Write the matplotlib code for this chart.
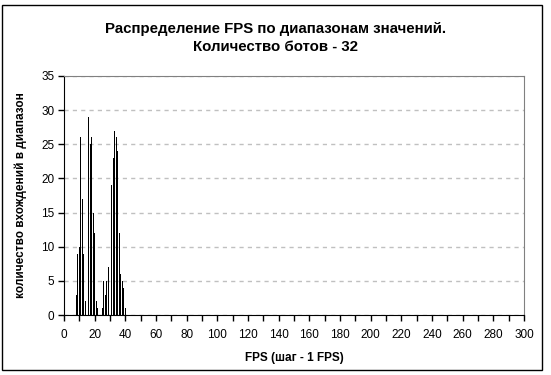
"""FPS distribution histogram (32 bots)."""

import matplotlib
matplotlib.use("Agg")
import matplotlib.pyplot as plt
from matplotlib.patches import Rectangle

plt.rcParams["font.family"] = ["Liberation Sans", "DejaVu Sans"]

# FPS bins (step 1 FPS) and hit counts
fps = [8, 9, 10, 11, 12, 13, 14, 15, 16, 17, 18, 19, 20, 21, 22, 23, 24,
       25, 26, 27, 28, 29, 30, 31, 32, 33, 34, 35, 36, 37, 38, 39, 40]
counts = [3, 9, 10, 26, 17, 9, 2, 2, 29, 25, 26, 15, 12, 2, 1, 0, 0,
          1, 5, 3, 5, 7, 15, 19, 23, 27, 26, 24, 12, 6, 5, 4, 1]

title = "Распределение FPS по диапазонам значений.\nКоличество ботов - 32"
xlabel = "FPS (шаг - 1 FPS)"
ylabel = "количество вхождений в диапазон"

W, H = 551, 375
fig = plt.figure(figsize=(W / 100, H / 100), dpi=100)
ax = fig.add_axes([64 / W, 1 - 315 / H, (524 - 64) / W, (315 - 76) / H])

ax.bar(fps, counts, width=0.6, color="black", align="center", zorder=3)

ax.set_xlim(0, 300)
ax.set_ylim(0, 35)
ax.set_xticks(range(0, 301, 20))
ax.set_xticks(range(0, 301, 10), minor=True)
ax.set_yticks(range(0, 36, 5))
ax.tick_params(axis="both", which="both", direction="out", labelsize=8.5, color="black", width=1)
ax.tick_params(axis="x", which="major", length=4, pad=6)
ax.tick_params(axis="x", which="minor", length=4)
ax.tick_params(axis="y", length=4, pad=3)

ax.grid(axis="y", color="#c0c0c0", linestyle=(0, (3, 3)), linewidth=1, zorder=0)
for s in ("top", "right"):
    ax.spines[s].set_color("#808080")
for s in ("left", "bottom"):
    ax.spines[s].set_color("black")

ax.set_xlabel(xlabel, fontsize=8.5, fontweight="bold", labelpad=8)
ax.set_ylabel(ylabel, fontsize=8.5, fontweight="bold", labelpad=10)

fig.text(0.5, 1 - 38 / H, title, ha="center", va="center", fontsize=10.8,
         fontweight="bold", linespacing=1.45)

# outer chart frame
fig.patches.append(Rectangle((1.5 / W, 5 / H), 540 / W, 365 / H, transform=fig.transFigure,
                             fill=False, edgecolor="black", linewidth=1))

fig.savefig("out.png", dpi=100)
